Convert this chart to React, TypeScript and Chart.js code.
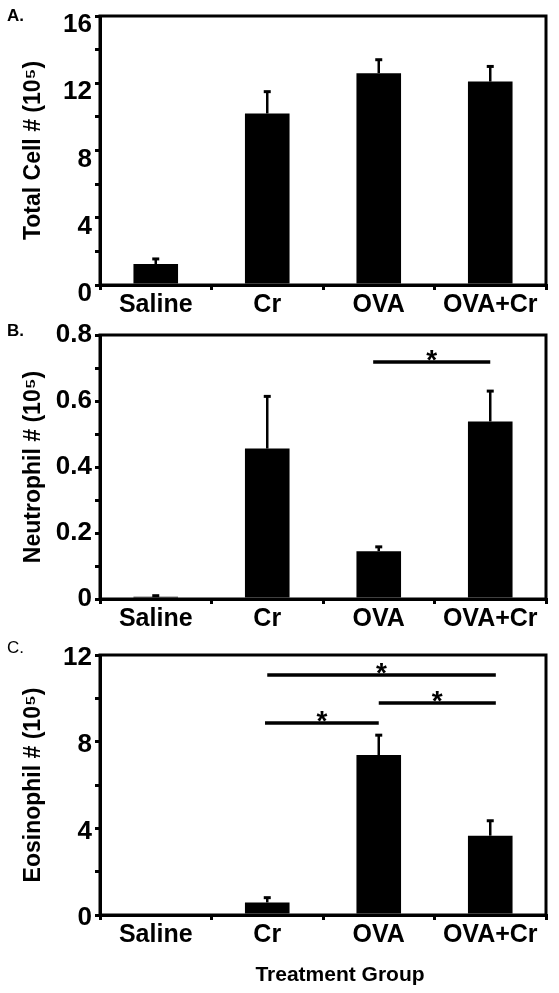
import React, { useEffect, useRef } from 'react';
import { Chart, registerables } from 'chart.js';

Chart.register(...registerables);

const FONT = "'Liberation Sans', Arial, Helvetica, sans-serif";

const categories = ['Saline', 'Cr', 'OVA', 'OVA+Cr'];

const totalCellMean = [1.25, 10.2, 12.6, 12.1];
const totalCellErr = [0.3, 1.3, 0.8, 0.9];

const neutrophilMean = [0.007, 0.456, 0.145, 0.538];
const neutrophilErr = [0.003, 0.158, 0.013, 0.092];

const eosinophilMean = [0, 0.58, 7.38, 3.66];
const eosinophilErr = [0, 0.22, 0.92, 0.69];

const totalCellTicks = { max: 16, step: 2, labelEvery: 4 };
const neutrophilTicks = { max: 0.8, step: 0.1, labelEvery: 0.2 };
const eosinophilTicks = { max: 12, step: 2, labelEvery: 4 };

type Bracket = { from: number; to: number; y: number };

const neutrophilBrackets: Bracket[] = [{ from: 1.95, to: 3.0, y: 0.718 }];
const eosinophilBrackets: Bracket[] = [
  { from: 1.0, to: 3.05, y: 11.08 },
  { from: 2.0, to: 3.05, y: 9.78 },
  { from: 0.98, to: 2.0, y: 8.86 },
];

type PanelProps = {
  top: number;
  height: number;
  plotTop: number;
  plotBottom: number;
  values: number[];
  errors: number[];
  ticks: { max: number; step: number; labelEvery: number };
  labelShift: number;
  yTitle: string;
  letter: string;
  letterY: number;
  letterWeight: string;
  brackets: Bracket[];
  xTitle?: string;
};

const PLOT_LEFT = 100;
const PLOT_RIGHT = 546;
const WIDTH = 559;

function Panel(props: PanelProps) {
  const ref = useRef<HTMLCanvasElement | null>(null);
  useEffect(() => {
    const canvas = ref.current;
    if (!canvas) return;
    const { values, errors, ticks, brackets } = props;

    const overlay = {
      id: 'overlay',
      afterDatasetsDraw(chart: any) {
        const ctx = chart.ctx;
        const xs = chart.scales.x;
        const ys = chart.scales.y;
        ctx.save();
        ctx.strokeStyle = '#000';
        ctx.fillStyle = '#000';
        values.forEach((v, i) => {
          const e = errors[i];
          if (!e) return;
          const x = xs.getPixelForValue(i);
          const y0 = ys.getPixelForValue(v);
          const y1 = ys.getPixelForValue(v + e);
          ctx.lineWidth = 2.5;
          ctx.beginPath();
          ctx.moveTo(x, y0);
          ctx.lineTo(x, y1);
          ctx.stroke();
          ctx.lineWidth = 3;
          ctx.beginPath();
          ctx.moveTo(x - 3.5, y1);
          ctx.lineTo(x + 3.5, y1);
          ctx.stroke();
        });
        brackets.forEach((b) => {
          const p0 = xs.getPixelForValue(0);
          const unit = xs.getPixelForValue(1) - p0;
          const xa = p0 + unit * b.from;
          const xb = p0 + unit * b.to;
          const y = ys.getPixelForValue(b.y);
          ctx.lineWidth = 3.5;
          ctx.beginPath();
          ctx.moveTo(xa, y);
          ctx.lineTo(xb, y);
          ctx.stroke();
          ctx.font = `bold 28px ${FONT}`;
          ctx.textAlign = 'center';
          ctx.textBaseline = 'alphabetic';
          ctx.fillText('*', (xa + xb) / 2, y - 9 + 16);
        });
        ctx.restore();
      },
      afterDraw(chart: any) {
        const ctx = chart.ctx;
        const a = chart.chartArea;
        ctx.save();
        ctx.strokeStyle = '#000';
        ctx.lineWidth = 3;
        ctx.strokeRect(a.left, a.top, a.right - a.left, a.bottom - a.top);
        ctx.fillStyle = '#000';
        ctx.font = `${props.letterWeight} 17px ${FONT}`;
        ctx.textAlign = 'left';
        ctx.textBaseline = 'middle';
        ctx.fillText(props.letter, 7, props.letterY);
        if (props.xTitle) {
          ctx.font = `bold 21px ${FONT}`;
          ctx.textAlign = 'center';
          ctx.fillText(props.xTitle, 340, 975 - props.top);
        }
        ctx.restore();
      },
    };

    const chart = new Chart(canvas, {
      type: 'bar',
      data: {
        labels: categories,
        datasets: [
          {
            data: values,
            backgroundColor: '#000',
            borderWidth: 0,
            barPercentage: 0.4,
            categoryPercentage: 1.0,
          },
        ],
      },
      options: {
        responsive: false,
        animation: false,
        events: [],
        layout: {
          padding: { top: props.plotTop, right: WIDTH - PLOT_RIGHT, bottom: 0, left: 0 },
        },
        plugins: {
          legend: { display: false },
          tooltip: { enabled: false },
        },
        scales: {
          x: {
            type: 'category',
            offset: true,
            afterFit: (s: any) => {
              s.height = props.height - props.plotBottom;
            },
            grid: {
              display: true,
              offset: true,
              drawOnChartArea: false,
              drawTicks: true,
              tickLength: 5,
              lineWidth: 3,
              color: '#000',
            },
            border: { display: true, color: '#000', width: 3 },
            ticks: {
              color: '#000',
              padding: 0,
              maxRotation: 0,
              autoSkip: false,
              font: { family: FONT, size: 25, weight: 'bold' },
            },
          },
          y: {
            min: 0,
            max: ticks.max,
            afterFit: (s: any) => {
              s.width = PLOT_LEFT;
            },
            grid: {
              display: true,
              drawOnChartArea: false,
              drawTicks: true,
              tickLength: 5,
              lineWidth: 3,
              color: '#000',
            },
            border: { display: true, color: '#000', width: 3 },
            ticks: {
              stepSize: ticks.step,
              autoSkip: false,
              color: '#000',
              padding: 3,
              labelOffset: props.labelShift,
              font: { family: FONT, size: 26, weight: 'bold', lineHeight: 1.0 },
              callback: (v: any) => {
                const n = Number(v);
                const r = Math.round((n / ticks.labelEvery) * 1000) / 1000;
                if (Math.abs(r - Math.round(r)) > 1e-6) return '';
                const val = Math.round(n * 1000) / 1000;
                return String(val);
              },
            },
            title: {
              display: true,
              text: props.yTitle,
              color: '#000',
              padding: { top: 20, bottom: 0 },
              font: { family: FONT, size: 23, weight: 'bold' },
            },
          },
        },
      },
      plugins: [overlay],
    } as any);
    return () => chart.destroy();
  }, []);
  return (
    <div style={{ position: 'absolute', left: 0, top: props.top, width: WIDTH, height: props.height }}>
      <canvas ref={ref} width={WIDTH} height={props.height} style={{ width: WIDTH, height: props.height, display: 'block' }} />
    </div>
  );
}

export default function App() {
  return (
    <div style={{ position: 'absolute', left: 0, top: 0, width: WIDTH, height: 993, background: '#fff' }}>
      <Panel
        top={0}
        height={318}
        plotTop={16}
        plotBottom={285}
        values={totalCellMean}
        errors={totalCellErr}
        ticks={totalCellTicks}
        labelShift={9}
        yTitle="Total Cell # (10⁵)"
        letter="A."
        letterY={16}
        letterWeight="bold"
        brackets={[]}
      />
      <Panel
        top={318}
        height={320}
        plotTop={17}
        plotBottom={281}
        values={neutrophilMean}
        errors={neutrophilErr}
        ticks={neutrophilTicks}
        labelShift={0}
        yTitle="Neutrophil # (10⁵)"
        letter="B."
        letterY={13}
        letterWeight="bold"
        brackets={neutrophilBrackets}
      />
      <Panel
        top={638}
        height={355}
        plotTop={17}
        plotBottom={277}
        values={eosinophilMean}
        errors={eosinophilErr}
        ticks={eosinophilTicks}
        labelShift={3}
        yTitle="Eosinophil # (10⁵)"
        letter="C."
        letterY={10}
        letterWeight="normal"
        brackets={eosinophilBrackets}
        xTitle="Treatment Group"
      />
    </div>
  );
}
